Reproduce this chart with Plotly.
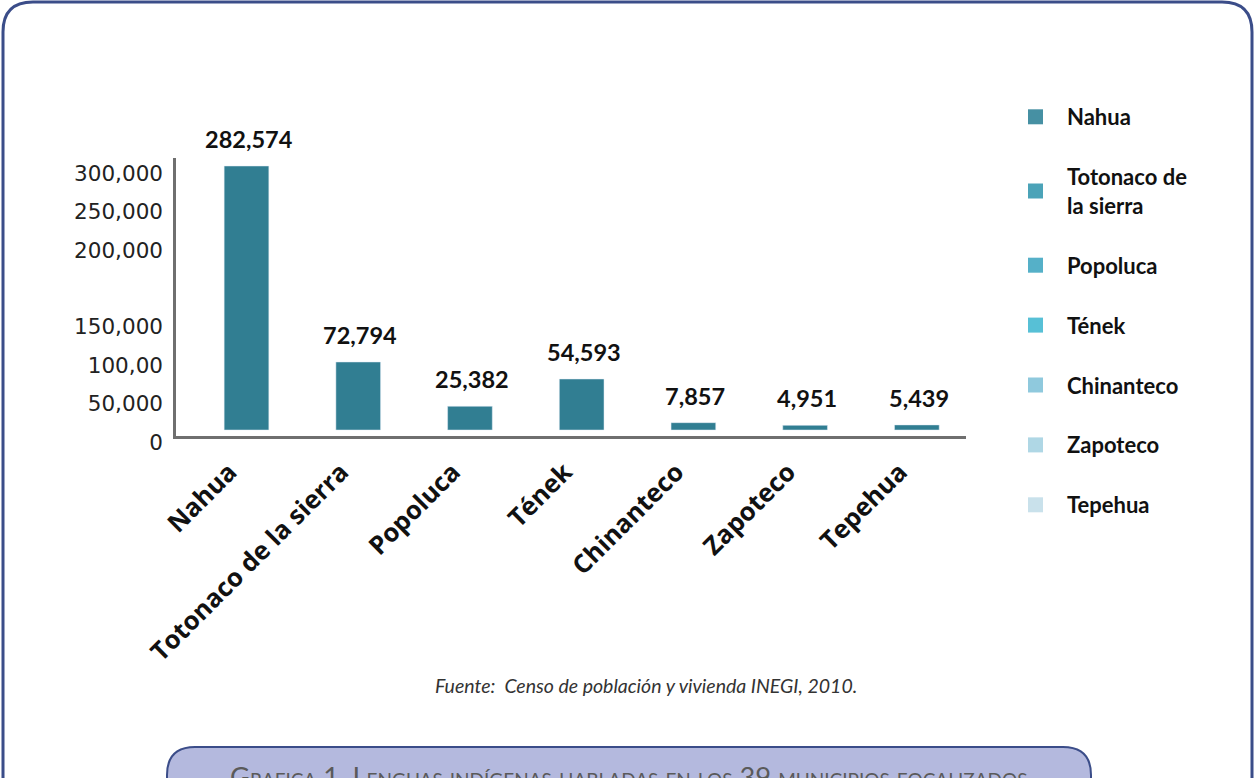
import plotly.graph_objects as go

W, H = 1255, 778

# ---- data -------------------------------------------------------------
categories = ["Nahua", "Totonaco de la sierra", "Popoluca", "Tének",
              "Chinanteco", "Zapoteco", "Tepehua"]
speakers = [282574, 72794, 25382, 54593, 7857, 4951, 5439]
value_labels = ["282,574", "72,794", "25,382", "54,593", "7,857", "4,951", "5,439"]
legend_labels = ["Nahua", "Totonaco de<br>la sierra", "Popoluca", "Tének",
                 "Chinanteco", "Zapoteco", "Tepehua"]
y_tick_labels = ["0", "50,000", "100,00", "150,000", "200,000", "250,000", "300,000"]
source_text = "Fuente:  Censo de población y vivienda INEGI, 2010."
caption_text = "Grafica 1. Lenguas indígenas habladas en los 39 municipios focalizados"

# ---- styles -------------------------------------------------------------
BAR_COLOR = "#317e92"
LEGEND_COLORS = ["#4690a3", "#4ba3b8", "#55b0c8", "#57c0d6",
                 "#8fc9dd", "#afd7e5", "#c9e1eb"]
NAVY = "#3b4d89"
AXIS_GRAY = "#6f6f6f"


def fx(px):
    return px / W


def fy(py):
    return 1 - py / H


fig = go.Figure()

fig.add_trace(go.Bar(
    x=categories, y=speakers, marker_color=BAR_COLOR, width=0.4,
    showlegend=False, hoverinfo="x+y"))

for lab, col in zip(legend_labels, LEGEND_COLORS):
    fig.add_trace(go.Scatter(
        x=[None], y=[None], mode="markers", name=lab, legendgroup=lab,
        marker=dict(symbol="square", size=15, color=col)))

# helper trace so the tick-label axis is drawn
fig.add_trace(go.Scatter(x=[None], y=[None], yaxis="y2", showlegend=False,
                         hoverinfo="skip"))

# the reference axis leaves one empty step between 150,000 and 200,000
tick_slots = [0, 1, 2, 3, 5, 6, 7]
STEP = 38.4  # px per slot
ZERO_PX = 442

annotations = []
for c, v, t in zip(categories, speakers, value_labels):
    annotations.append(dict(
        x=c, y=v, xref="x", yref="y", text=t, showarrow=False,
        yanchor="bottom", yshift=11, xshift=2,
        font=dict(family="Lato", size=23.5, color="#111111", weight="bold")))

annotations.append(dict(
    x=fx(646), y=fy(685), xref="paper", yref="paper", text=source_text,
    showarrow=False, xanchor="center", yanchor="middle",
    font=dict(family="Lato", size=19.5, color="#333333", style="italic")))

annotations.append(dict(
    x=fx(629), y=fy(776), xref="paper", yref="paper", text=caption_text,
    showarrow=False, xanchor="center", yanchor="middle",
    font=dict(family="Lato", size=27.3, color="#5a5a5a", variant="small-caps")))


def rounded_top_path(x0, x1, ytop, ybot, r, close=False):
    p = (f"M {fx(x0)},{fy(ybot)} L {fx(x0)},{fy(ytop + r)} "
         f"Q {fx(x0)},{fy(ytop)} {fx(x0 + r)},{fy(ytop)} "
         f"L {fx(x1 - r)},{fy(ytop)} "
         f"Q {fx(x1)},{fy(ytop)} {fx(x1)},{fy(ytop + r)} "
         f"L {fx(x1)},{fy(ybot)}")
    if close:
        p += " Z"
    return p


shapes = [
    dict(type="path", xref="paper", yref="paper",
         path=rounded_top_path(3, 1252, 2, 820, 30),
         line=dict(color=NAVY, width=3), layer="below"),
    dict(type="path", xref="paper", yref="paper",
         path=rounded_top_path(167, 1091, 747, 820, 28, close=True),
         line=dict(color=NAVY, width=2), fillcolor="#b4b9de", layer="below"),
]

fig.update_layout(
    width=W, height=H,
    margin=dict(l=0, r=0, t=0, b=0, autoexpand=False),
    paper_bgcolor="white", plot_bgcolor="rgba(0,0,0,0)",
    bargap=0.6,
    xaxis=dict(
        domain=[fx(176), fx(966)], range=[-0.631, 6.44], anchor="y",
        showline=True, linecolor=AXIS_GRAY, linewidth=3, showgrid=False,
        zeroline=False, ticks="", tickangle=-45, automargin=False,
        ticklabelshift=-17, ticklabelstandoff=8,
        tickfont=dict(family="Open Sans", size=25.5, color="#111111", weight="bold")),
    yaxis=dict(
        domain=[fy(436), fy(158)], range=[-6422, 291137], anchor="x",
        showline=True, linecolor=AXIS_GRAY, linewidth=2.5, showgrid=False,
        zeroline=False, ticks="", showticklabels=False, automargin=False),
    yaxis2=dict(
        domain=[fy(462), fy(150)],
        range=[(ZERO_PX - 462) / STEP, (ZERO_PX - 150) / STEP],
        anchor="free", position=fx(176), side="left", automargin=False,
        tickmode="array", tickvals=tick_slots, ticktext=y_tick_labels,
        showline=False, showgrid=False, zeroline=False, ticks="",
        ticklabelstandoff=13,
        tickfont=dict(family="DejaVu Sans", size=21.5, color="#222222")),
    legend=dict(
        x=fx(1004), y=fy(96), xanchor="left", yanchor="top",
        bgcolor="rgba(0,0,0,0)", tracegroupgap=28.3, itemwidth=53,
        font=dict(family="Lato", size=22, color="#111111", weight="bold")),
    annotations=annotations,
    shapes=shapes,
)

fig.write_html("out.html")
